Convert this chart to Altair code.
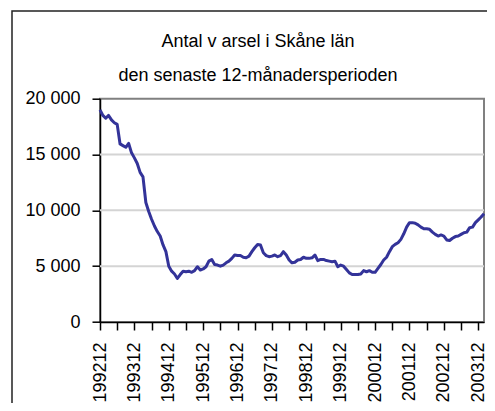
import altair as alt
import pandas as pd

# Monthly 12-month rolling totals, 199212 .. 200402
values = [
    19000, 18500, 18250, 18500, 18100, 17850, 17700, 15950, 15800, 15650,
    16000, 15150, 14700, 14200, 13400, 13000, 10700, 9900, 9200, 8600,
    8100, 7700, 6900, 6300, 5000, 4550, 4300, 3900, 4250, 4550,
    4500, 4550, 4450, 4600, 4950, 4650, 4750, 4950, 5450, 5600,
    5150, 5100, 5000, 5100, 5300, 5450, 5700, 6000, 5950, 5950,
    5800, 5750, 5900, 6300, 6650, 6950, 6900, 6200, 5950, 5850,
    5900, 6000, 5850, 5950, 6300, 6000, 5550, 5300, 5350, 5550,
    5600, 5800, 5700, 5700, 5750, 6000, 5500, 5600, 5600, 5500,
    5450, 5400, 5450, 4950, 5100, 5000, 4700, 4400, 4250, 4250,
    4250, 4300, 4600, 4500, 4600, 4450, 4450, 4800, 5150, 5550,
    5800, 6300, 6750, 6950, 7100, 7400, 7900, 8500, 8900, 8900,
    8850, 8700, 8500, 8350, 8350, 8300, 8050, 7850, 7700, 7800,
    7700, 7350, 7300, 7500, 7650, 7700, 7850, 8000, 8050, 8450,
    8500, 8900, 9150, 9400, 9700,
]

tick_labels = ["199212", "199312", "199412", "199512", "199612", "199712",
               "199812", "199912", "200012", "200112", "200212", "200312"]
y_ticks = [0, 5000, 10000, 15000, 20000]
grid_values = [5000, 10000, 15000]
title_lines = ["Antal v arsel i Skåne län", "den senaste 12-månadersperioden"]

months = []
y, m = 1992, 12
for _ in values:
    months.append(f"{y}{m:02d}")
    m += 1
    if m > 12:
        m = 1
        y += 1

df = pd.DataFrame({"idx": list(range(len(values))), "month": months, "value": values})
grid_df = pd.DataFrame({"value": grid_values})
frame_df = pd.DataFrame({"f": [0]})

FONT = "Liberation Sans"
n = len(values) - 1
tick_pos = list(range(0, 12 * (len(tick_labels) - 1) + 1, 6))
label_map = "{" + ",".join(f"'{12 * i}':'{lab}'" for i, lab in enumerate(tick_labels)) + "}"

x_axis = alt.Axis(values=tick_pos, grid=False, title=None,
                  labelExpr=f"{label_map}[toString(datum.value)] || ''",
                  labelAngle=-90, labelAlign="right", labelBaseline="middle",
                  labelPadding=12, labelFontSize=18, labelFont=FONT,
                  labelColor="black", labelFlush=False, labelOverlap=False,
                  tickSize=8, tickColor="black", tickWidth=1.5,
                  domainColor="black", domainWidth=1.5)
y_axis = alt.Axis(values=y_ticks, grid=False, title=None,
                  labelExpr="replace(format(datum.value, ','), ',', ' ')",
                  labelPadding=12, labelFontSize=18, labelFont=FONT,
                  labelColor="black",
                  tickSize=8, tickColor="black", tickWidth=1.5,
                  domainColor="black", domainWidth=1.5)
x_scale = alt.Scale(domain=[0, n], nice=False, zero=False)
y_scale = alt.Scale(domain=[0, 20000], nice=False)

grid = alt.Chart(grid_df).mark_rule(color="#d4d4d4", strokeWidth=2).encode(
    y=alt.Y("value:Q", scale=y_scale, axis=y_axis)
)

line = alt.Chart(df).mark_line(color="#333399", strokeWidth=3, strokeJoin="round").encode(
    x=alt.X("idx:Q", scale=x_scale, axis=x_axis),
    y=alt.Y("value:Q", scale=y_scale, axis=y_axis),
)

frame = alt.Chart(frame_df).mark_rect(filled=False, stroke="#222222", strokeWidth=1.5).encode(
    x=alt.value(-88), x2=alt.value(420), y=alt.value(-87.7), y2=alt.value(330)
)

title1 = alt.Chart(frame_df).mark_text(
    text=title_lines[0], font=FONT, fontSize=18, color="black",
    align="center", baseline="alphabetic"
).encode(x=alt.value(158), y=alt.value(-51.2))

title2 = alt.Chart(frame_df).mark_text(
    text=title_lines[1], font=FONT, fontSize=18, color="black",
    align="center", baseline="alphabetic"
).encode(x=alt.value(158), y=alt.value(-17.7))

chart = alt.layer(grid, line, frame, title1, title2).properties(
    width=384, height=223.3,
    padding={"left": 92, "top": 90.7, "right": 3, "bottom": 81},
    autosize=alt.AutoSizeParams(type="none"),
).configure_view(stroke="#808080", strokeWidth=2)

chart.save("out.html", embed_options={"renderer": "svg", "actions": False})
